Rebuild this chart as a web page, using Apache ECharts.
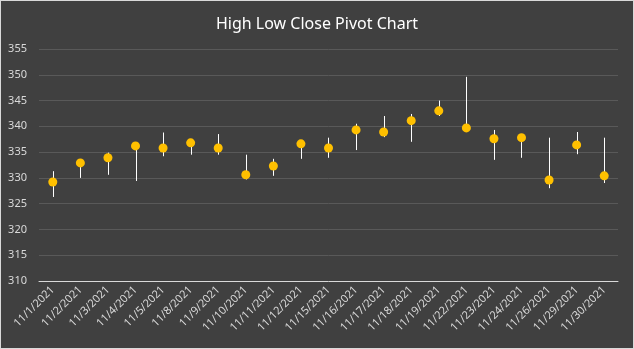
<!DOCTYPE html>
<html>
<head>
<meta charset="utf-8">
<script src="https://cdn.jsdelivr.net/npm/echarts@6/dist/echarts.min.js"></script>
<style>
html,body{margin:0;padding:0;background:#404040;}
#wrap{width:634px;height:349px;box-sizing:border-box;border:1px solid #d9d9d9;background:#404040;}
#chart{width:632px;height:347px;}
</style>
</head>
<body>
<div id="wrap"><div id="chart"></div></div>
<script>
const categories = ["11/1/2021","11/2/2021","11/3/2021","11/4/2021","11/5/2021","11/8/2021","11/9/2021","11/10/2021","11/11/2021","11/12/2021","11/15/2021","11/16/2021","11/17/2021","11/18/2021","11/19/2021","11/22/2021","11/23/2021","11/24/2021","11/26/2021","11/29/2021","11/30/2021"];
const highValues = [331.3,333.2,334.9,336.5,338.8,337.5,338.5,334.5,333.7,337.0,337.8,340.5,342.0,342.4,345.0,349.6,339.3,338.2,337.8,338.9,337.8];
const lowValues = [326.3,330.0,330.6,329.4,334.2,334.5,334.5,329.7,330.4,333.7,333.9,335.4,337.9,337.0,342.0,339.2,333.5,333.9,328.0,334.6,329.0];
const closeValues = [329.2,332.9,333.9,336.2,335.8,336.8,335.8,330.6,332.3,336.6,335.8,339.3,338.9,341.1,343.0,339.7,337.6,337.8,329.6,336.4,330.4];
const yTicks = {min:310, max:355, interval:5};

const chart = echarts.init(document.getElementById('chart'), null, {renderer:'canvas'});
const hlData = categories.map((c,i)=>[i, lowValues[i], highValues[i]]);
chart.setOption({
  backgroundColor:'#404040',
  animation:false,
  title:{text:'High Low Close Pivot Chart', left:'center', top:10,
    textStyle:{color:'#ffffff', fontSize:16, fontWeight:'normal', fontFamily:'Noto Sans'}},
  grid:{left:38, right:15, top:48, bottom:67},
  xAxis:{type:'category', data:categories, boundaryGap:true,
    axisLine:{lineStyle:{color:'#d9d9d9', width:1}},
    axisTick:{show:false},
    axisLabel:{color:'#d9d9d9', fontSize:11, rotate:45, interval:0, margin:7, fontFamily:'Noto Sans'},
    splitLine:{show:false}},
  yAxis:{type:'value', min:yTicks.min, max:yTicks.max, interval:yTicks.interval,
    axisLine:{show:false}, axisTick:{show:false},
    axisLabel:{color:'#d9d9d9', fontSize:11, margin:12, fontFamily:'Noto Sans', align:'right'},
    splitLine:{lineStyle:{color:'#595959', width:1}}},
  series:[
    {type:'custom', data:hlData, encode:{x:0, y:[1,2]},
      renderItem:function(params, api){
        const x = api.value(0);
        const p1 = api.coord([x, api.value(1)]);
        const p2 = api.coord([x, api.value(2)]);
        const cx = Math.round(p1[0]) + 0.5;
        return {type:'line', shape:{x1:cx, y1:p1[1], x2:cx, y2:p2[1]},
          style:{stroke:'#ffffff', lineWidth:1}};
      }, z:2},
    {type:'scatter', data:closeValues, symbol:'circle', symbolSize:9,
      itemStyle:{color:'#FFC000', opacity:1}, z:3}
  ]
});
</script>
</body>
</html>
